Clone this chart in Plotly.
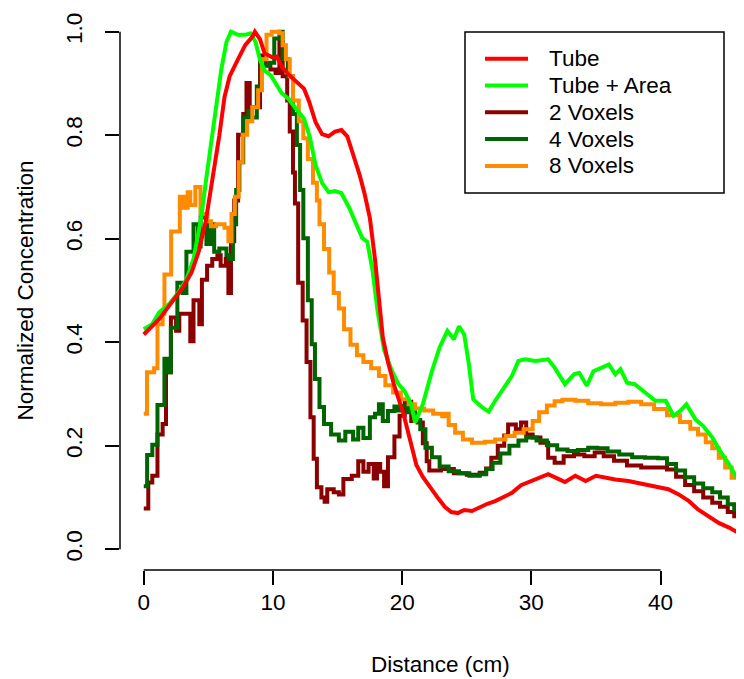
import plotly.graph_objects as go

# ---------------- data ----------------
tube_x = [0, 0.6, 1.2, 1.8, 2.3, 3.0, 3.7, 4.25, 4.8, 5.3, 5.85, 6.25, 6.65, 7.3, 7.85, 8.4, 8.6, 9.0, 9.35, 9.6,
          10.0, 10.3, 10.7, 11.3, 11.9, 12.4, 12.8, 13.3, 13.8, 14.3, 14.8, 15.3, 15.75, 16.2, 16.7, 17.1, 17.5, 17.9, 18.2, 18.5,
          18.9, 19.4, 20.1, 20.6, 21.1, 21.6, 22.0, 22.4, 22.8, 23.3, 23.8, 24.3, 24.8, 25.4, 26.0, 26.6, 27.2, 27.8, 28.5, 29.2,
          30.0, 30.7, 31.3, 32.0, 32.6, 33.4, 34.2, 35.0, 35.7, 36.5, 37.5, 38.5, 39.6, 40.6, 41.4, 42.2, 42.9, 43.7, 44.5, 45.3, 46.0]
tube_y = [0.415, 0.43, 0.445, 0.465, 0.483, 0.505, 0.535, 0.575, 0.634, 0.708, 0.80, 0.874, 0.914, 0.947, 0.974, 0.99, 1.0, 0.985, 0.958, 0.955,
          0.95, 0.952, 0.932, 0.915, 0.9, 0.89, 0.865, 0.825, 0.802, 0.798, 0.807, 0.81, 0.798, 0.765, 0.724, 0.686, 0.64, 0.56, 0.48, 0.41,
          0.362, 0.315, 0.262, 0.209, 0.163, 0.14, 0.125, 0.11, 0.098, 0.082, 0.072, 0.07, 0.076, 0.074, 0.082, 0.088, 0.093, 0.1, 0.109, 0.124,
          0.132, 0.14, 0.145, 0.137, 0.13, 0.142, 0.132, 0.142, 0.138, 0.135, 0.132, 0.127, 0.12, 0.116, 0.106, 0.093, 0.077, 0.064, 0.051, 0.042, 0.032]

area_x = [0, 0.65, 1.2, 2.0, 2.65, 3.3, 3.85, 4.4, 4.9, 5.45, 6.0, 6.4, 6.75, 7.3, 7.85, 8.25, 8.65, 9.0, 9.35, 9.85,
          10.25, 10.65, 11.2, 11.9, 12.4, 12.85, 13.3, 13.8, 14.3, 14.8, 15.3, 15.9, 16.4, 16.9, 17.3, 17.7, 18.1, 18.6, 19.2, 19.7,
          20.2, 20.7, 21.0, 21.6, 22.3, 22.9, 23.5, 24.0, 24.4, 24.8, 25.15, 25.5, 26.2, 26.7, 27.2, 27.8, 28.5, 29.0, 29.5, 30.3,
          31.3, 31.8, 32.6, 33.3, 33.7, 34.3, 34.8, 35.45, 36.0, 36.5, 36.9, 37.4, 38.0, 38.8, 39.6, 40.4, 41.0, 41.5, 42.0, 42.7,
          43.3, 44.0, 44.6, 45.3, 45.9]
area_y = [0.425, 0.435, 0.458, 0.475, 0.495, 0.521, 0.561, 0.634, 0.728, 0.827, 0.927, 0.98, 1.0, 0.994, 0.994, 0.997, 0.98, 0.945, 0.925, 0.915,
          0.898, 0.882, 0.87, 0.847, 0.832, 0.797, 0.742, 0.708, 0.69, 0.692, 0.688, 0.66, 0.63, 0.602, 0.594, 0.54, 0.46, 0.385, 0.345, 0.32,
          0.305, 0.28, 0.245, 0.28, 0.344, 0.39, 0.422, 0.406, 0.431, 0.415, 0.36, 0.29, 0.274, 0.266, 0.287, 0.309, 0.335, 0.364, 0.367, 0.364,
          0.367, 0.351, 0.319, 0.338, 0.341, 0.316, 0.344, 0.351, 0.357, 0.338, 0.348, 0.322, 0.319, 0.303, 0.287, 0.287, 0.258, 0.267, 0.28, 0.251,
          0.238, 0.216, 0.19, 0.164, 0.138]

vox2_x = [0, 0.35, 0.66, 1.06, 1.46, 1.72, 2.1, 2.5, 2.75, 3.6, 3.85, 4.3, 4.5, 4.9, 5.3, 5.7, 5.95, 6.35, 6.55, 6.75,
          7.0, 7.3, 7.7, 7.95, 8.2, 9.0, 9.4, 9.8, 10.2, 10.5, 10.75, 11.1, 11.3, 11.55, 11.7, 11.95, 12.3, 12.6, 12.9, 13.15,
          13.4, 13.75, 14.0, 14.2, 14.7, 15.1, 15.45, 16.1, 16.6, 17.0, 17.4, 17.8, 18.05, 18.3, 18.6, 18.9, 19.4, 19.8, 20.2, 20.7,
          21.2, 21.6, 21.9, 22.1, 23.0, 24.0, 25.0, 26.0, 26.5, 26.9, 27.4, 27.9, 28.2, 28.8, 29.2, 29.6, 30.1, 30.7, 31.3, 31.8,
          32.5, 33.3, 34.1, 34.9, 35.6, 36.4, 37.4, 38.5, 39.6, 40.5, 41.2, 41.9, 42.6, 43.3, 44.0, 44.6, 45.2, 45.7, 46.1]
vox2_y = [0.079, 0.129, 0.142, 0.222, 0.242, 0.342, 0.448, 0.422, 0.455, 0.402, 0.481, 0.435, 0.521, 0.548, 0.561, 0.568, 0.548, 0.561, 0.495, 0.595,
          0.674, 0.801, 0.841, 0.901, 0.854, 0.954, 0.935, 0.927, 0.92, 0.98, 0.914, 0.867, 0.807, 0.728, 0.668, 0.515, 0.442, 0.362, 0.255, 0.175,
          0.12, 0.1, 0.092, 0.116, 0.11, 0.106, 0.136, 0.142, 0.17, 0.15, 0.165, 0.137, 0.165, 0.15, 0.122, 0.178, 0.218, 0.258, 0.285, 0.248,
          0.245, 0.205, 0.17, 0.152, 0.155, 0.147, 0.144, 0.148, 0.156, 0.177, 0.2, 0.22, 0.241, 0.232, 0.245, 0.222, 0.216, 0.206, 0.177, 0.167,
          0.18, 0.183, 0.18, 0.187, 0.18, 0.171, 0.162, 0.158, 0.158, 0.154, 0.14, 0.124, 0.112, 0.1, 0.09, 0.082, 0.072, 0.064, 0.058]

vox4_x = [0, 0.26, 0.66, 1.06, 1.6, 1.86, 2.1, 2.6, 3.0, 3.3, 3.85, 4.2, 4.4, 4.85, 5.15, 5.45, 5.85, 6.4, 6.6, 6.9,
          7.15, 7.4, 7.7, 8.1, 8.35, 8.75, 9.05, 9.3, 9.7, 10.1, 10.5, 10.75, 11.15, 11.55, 11.85, 12.1, 12.35, 12.7, 13.0, 13.25,
          13.6, 13.95, 14.5, 15.1, 15.6, 16.2, 16.6, 17.0, 17.5, 17.9, 18.2, 18.5, 18.9, 19.4, 19.7, 20.0, 20.4, 21.0, 21.4, 21.8,
          22.3, 22.9, 23.6, 24.4, 25.2, 26.0, 26.5, 27.0, 27.6, 28.3, 29.0, 29.6, 30.4, 31.2, 32.0, 32.8, 33.6, 34.4, 35.1, 35.9,
          36.8, 37.8, 38.8, 39.8, 40.5, 41.2, 41.9, 42.6, 43.3, 44.0, 44.6, 45.2, 45.7, 46.1]
vox4_y = [0.122, 0.182, 0.202, 0.279, 0.368, 0.342, 0.428, 0.515, 0.495, 0.575, 0.628, 0.585, 0.641, 0.59, 0.628, 0.575, 0.581, 0.568, 0.561, 0.628,
          0.694, 0.748, 0.834, 0.847, 0.834, 0.894, 0.947, 0.934, 0.94, 0.987, 1.0, 0.947, 0.914, 0.841, 0.781, 0.694, 0.601, 0.481, 0.396, 0.329,
          0.275, 0.242, 0.222, 0.21, 0.227, 0.212, 0.235, 0.215, 0.255, 0.262, 0.28, 0.248, 0.267, 0.276, 0.268, 0.277, 0.265, 0.25, 0.232, 0.196,
          0.178, 0.16, 0.151, 0.147, 0.142, 0.145, 0.155, 0.167, 0.185, 0.2, 0.21, 0.216, 0.21, 0.201, 0.193, 0.19, 0.192, 0.196, 0.195, 0.189,
          0.183, 0.178, 0.177, 0.176, 0.165, 0.152, 0.139, 0.127, 0.118, 0.11, 0.1, 0.087, 0.077, 0.066]

vox8_x = [0, 0.25, 0.8, 1.06, 1.46, 1.6, 2.12, 2.79, 3.1, 3.4, 3.6, 3.99, 4.39, 4.92, 5.2, 5.6, 6.25, 6.55, 6.79, 7.05,
          7.35, 7.65, 8.0, 8.4, 8.85, 9.15, 9.5, 9.9, 10.5, 10.75, 11.0, 11.3, 11.55, 12.0, 12.35, 12.7, 13.1, 13.4, 13.6, 13.95,
          14.35, 14.7, 15.1, 15.5, 16.0, 16.5, 17.0, 17.6, 18.2, 18.7, 19.3, 19.9, 20.5, 21.0, 21.7, 22.4, 23.1, 23.4, 23.6, 24.1,
          24.7, 25.4, 26.4, 27.2, 28.0, 28.7, 29.4, 30.1, 30.6, 31.2, 31.8, 32.4, 33.4, 34.4, 35.4, 36.5, 37.5, 38.5, 39.5, 40.5,
          41.5, 42.3, 42.9, 43.5, 44.0, 44.5, 45.0, 45.5, 46.0]
vox8_y = [0.262, 0.342, 0.35, 0.435, 0.455, 0.531, 0.614, 0.681, 0.66, 0.69, 0.665, 0.70, 0.648, 0.634, 0.624, 0.628, 0.621, 0.595, 0.648, 0.681,
          0.748, 0.801, 0.827, 0.854, 0.887, 0.947, 0.994, 1.0, 0.997, 0.974, 0.947, 0.914, 0.867, 0.827, 0.794, 0.754, 0.708, 0.674, 0.628, 0.58,
          0.535, 0.495, 0.465, 0.425, 0.395, 0.375, 0.362, 0.35, 0.335, 0.317, 0.303, 0.29, 0.28, 0.272, 0.268, 0.262, 0.257, 0.262, 0.24, 0.225,
          0.212, 0.206, 0.208, 0.212, 0.219, 0.225, 0.232, 0.248, 0.265, 0.278, 0.286, 0.289, 0.287, 0.282, 0.28, 0.283, 0.285, 0.28, 0.271, 0.259,
          0.246, 0.233, 0.222, 0.207, 0.195, 0.177, 0.158, 0.138, 0.113]

x_ticks = [0, 10, 20, 30, 40]
y_ticks = [0.0, 0.2, 0.4, 0.6, 0.8, 1.0]
y_tick_text = ["0.0", "0.2", "0.4", "0.6", "0.8", "1.0"]
x_title = "Distance (cm)"
y_title = "Normalized Concentration"

# legend order (name, x, y, colour, line shape)
series = [
    ("Tube", tube_x, tube_y, "#FF0000", "linear"),
    ("Tube + Area", area_x, area_y, "#00FF00", "linear"),
    ("2 Voxels", vox2_x, vox2_y, "#8B0000", "hv"),
    ("4 Voxels", vox4_x, vox4_y, "#006400", "hv"),
    ("8 Voxels", vox8_x, vox8_y, "#FF8C00", "hv"),
]
draw_order = [2, 3, 4, 1, 0]

FONT = "Liberation Sans, Arial, Helvetica, sans-serif"
FS = 22.5
W, H = 744, 679
ML, MR, MT, MB = 112, 0, 3, 117
pw, ph = W - ML - MR, H - MT - MB

def px2paper_x(px):
    return (px - ML) / pw

def px2paper_y(py):
    return 1 - (py - MT) / ph

fig = go.Figure()
for i in draw_order:
    name, xs, ys, col, shape = series[i]
    fig.add_trace(go.Scatter(x=xs, y=ys, name=name, mode="lines", showlegend=False,
                             line=dict(color=col, width=4, shape=shape)))

shapes = [
    # R-style axis lines spanning first to last tick
    dict(type="line", xref="x", yref="paper", x0=x_ticks[0], x1=x_ticks[-1], y0=0, y1=0,
         line=dict(color="black", width=1.5)),
    dict(type="line", xref="paper", yref="y", x0=0, x1=0, y0=y_ticks[0], y1=y_ticks[-1],
         line=dict(color="black", width=1.5)),
    # legend box
    dict(type="rect", xref="paper", yref="paper",
         x0=px2paper_x(457), x1=px2paper_x(716), y0=px2paper_y(185), y1=px2paper_y(24),
         line=dict(color="black", width=1.5), fillcolor="rgba(0,0,0,0)"),
]
annotations = []
row0, row_gap = 50.7, 26.8
for k, (name, xs, ys, col, shape) in enumerate(series):
    ry = px2paper_y(row0 + k * row_gap)
    shapes.append(dict(type="line", xref="paper", yref="paper",
                       x0=px2paper_x(477), x1=px2paper_x(520), y0=ry, y1=ry,
                       line=dict(color=col, width=4)))
    annotations.append(dict(text=name, xref="paper", yref="paper", x=px2paper_x(539), y=ry,
                            xanchor="left", yanchor="middle", showarrow=False,
                            font=dict(family=FONT, size=FS, color="black")))

# axis titles (R mgp line 3)
annotations.append(dict(text=x_title, xref="paper", yref="paper", x=px2paper_x(432), y=px2paper_y(657),
                        xanchor="center", yanchor="middle", showarrow=False,
                        font=dict(family=FONT, size=FS, color="black")))
annotations.append(dict(text=y_title, xref="paper", yref="paper", x=px2paper_x(16.5), y=px2paper_y(283),
                        xanchor="center", yanchor="middle", textangle=-90, showarrow=False,
                        font=dict(family=FONT, size=FS, color="black")))

fig.update_layout(
    template="none",
    width=W, height=H,
    margin=dict(l=ML, r=MR, t=MT, b=MB, pad=0, autoexpand=False),
    paper_bgcolor="white", plot_bgcolor="white",
    font=dict(family=FONT, size=FS, color="black"),
    showlegend=False,
    shapes=shapes,
    annotations=annotations,
    xaxis=dict(range=[-1.84, -1.84 + pw / 12.92], tickmode="array", tickvals=x_ticks,
               ticktext=[str(v) for v in x_ticks], ticks="outside", ticklen=14, tickwidth=1.5,
               tickcolor="black", showline=False, showgrid=False, zeroline=False, automargin=False,
               ticklabelstandoff=-2, tickfont=dict(size=FS, family=FONT, color="black")),
    yaxis=dict(range=[-0.04, 1.04], tickmode="array", tickvals=y_ticks, ticktext=y_tick_text,
               ticks="outside", ticklen=14, tickwidth=1.5, tickcolor="black", tickangle=-90,
               showline=False, showgrid=False, zeroline=False, automargin=False,
               ticklabelstandoff=14, tickfont=dict(size=FS, family=FONT, color="black")),
)

fig.write_html("out.html")
